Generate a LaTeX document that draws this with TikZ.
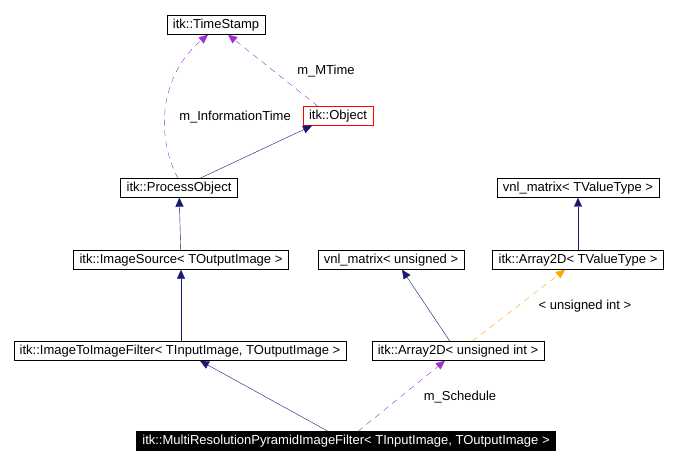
\documentclass[tikz,border=0pt]{standalone}
\usepackage{fontspec}
\setmainfont{Liberation Sans}
\usepackage{xcolor}
\usepackage{tikz}
\usetikzlibrary{arrows.meta}

\definecolor{edgenavy}{HTML}{191970}
\definecolor{edgepurple}{HTML}{9A32CD}
\definecolor{edgeorange}{HTML}{FFA500}

\begin{document}
\begin{tikzpicture}[x=1pt, y=-1pt,
        cls/.style={draw, fill=white, inner xsep=6pt, inner ysep=0pt, minimum height=19pt, font=\fontsize{13}{15}\selectfont},
        inh/.style={edgenavy, -{Triangle[length=9pt,width=8pt]}},
        memb/.style={edgepurple, dash pattern=on 6pt off 5pt, -{Triangle[length=9pt,width=8pt]}},
        tmpl/.style={edgeorange, dash pattern=on 6pt off 5pt, -{Triangle[length=9pt,width=8pt]}},
        lbl/.style={inner sep=0pt, font=\fontsize{13}{15}\selectfont}]
        \useasboundingbox (0,0) rectangle (680,465);
        % classes
        \node[cls] (ts) at (216,25) {itk::TimeStamp};
        \node[cls, draw=red] (obj) at (338,116) {itk::Object};
        \node[cls] (po) at (179,188) {itk::ProcessObject};
        \node[cls] (src) at (181,260) {itk::ImageSource< TOutputImage >};
        \node[cls] (iti) at (180,351) {itk::ImageToImageFilter< TInputImage, TOutputImage >};
        \node[cls, fill=black, text=white] (mrp) at (346,441) {itk::MultiResolutionPyramidImageFilter< TInputImage, TOutputImage >};
        \node[cls] (vnlt) at (578,188) {vnl\_matrix< TValueType >};
        \node[cls] (a2t) at (578,260) {itk::Array2D< TValueType >};
        \node[cls] (vnlu) at (391,260) {vnl\_matrix< unsigned >};
        \node[cls] (a2u) at (458,351) {itk::Array2D< unsigned int >};
        % inheritance
        \draw[inh] ([xshift=21pt]po.north) -- ([xshift=-26pt]obj.south);
        \draw[inh] (src) -- (po);
        \draw[inh] (iti.north -| src) -- (src);
        \draw[inh] ([xshift=-18pt]mrp.north) -- ([xshift=20pt]iti.south);
        \draw[inh] ([xshift=-8pt]a2u.north) -- ([xshift=11pt]vnlu.south);
        \draw[inh] (a2t) -- (vnlt);
        % members
        \draw[memb] ([xshift=-1pt]po.north) .. controls (155,135) and (160,75) .. ([xshift=-8pt]ts.south);
        \draw[memb] ([xshift=-20pt]obj.north) -- ([xshift=12pt]ts.south);
        \draw[memb] ([xshift=12pt]mrp.north) -- ([xshift=-13pt]a2u.south);
        \draw[tmpl] ([xshift=14pt]a2u.north) -- ([xshift=-13pt]a2t.south);
        % labels
        \node[lbl] (linfo) at (235,117) {m\_InformationTime};
        \node[lbl] (lmt) at (326,71) {m\_MTime};
        \node[lbl] (lsch) at (460,397) {m\_Schedule};
        \node[lbl] (luint) at (585,306) {< unsigned int >};
    \end{tikzpicture}
\end{document}
